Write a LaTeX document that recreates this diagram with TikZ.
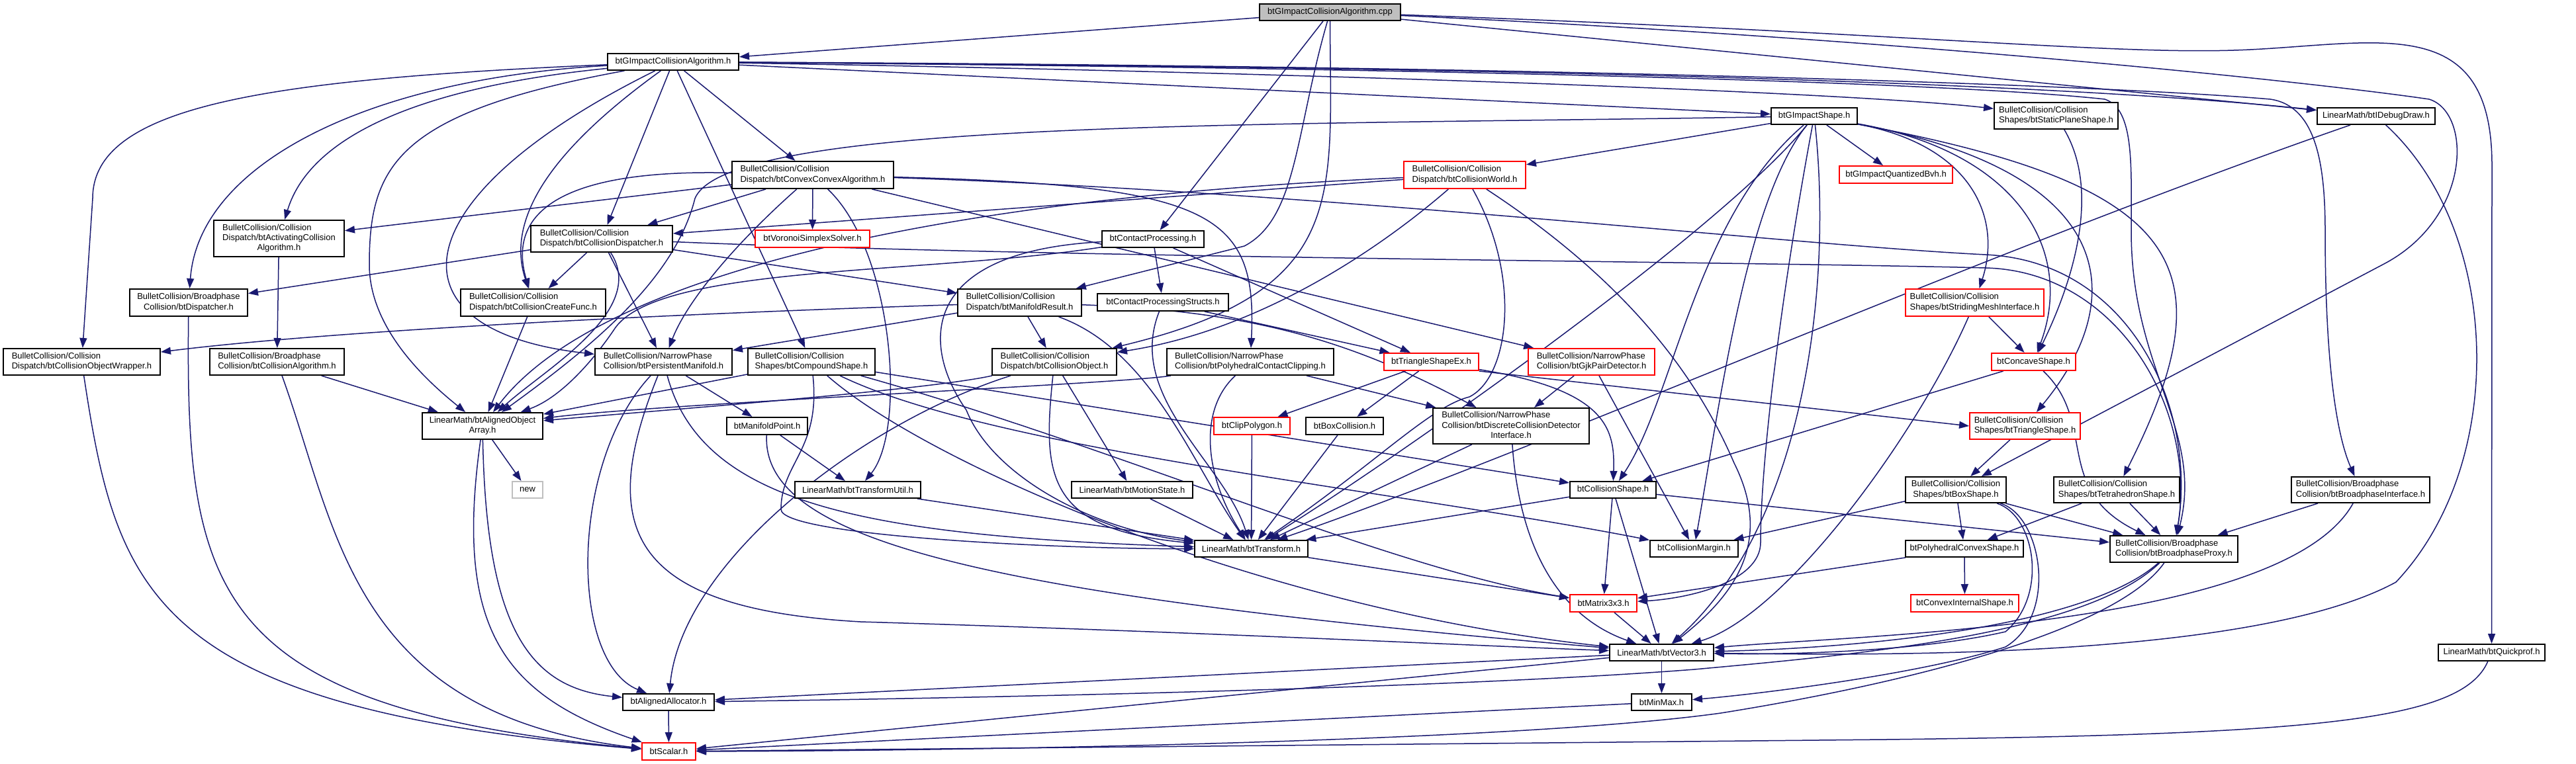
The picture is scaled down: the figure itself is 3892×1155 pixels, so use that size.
\documentclass[tikz,border=0pt]{standalone}
\usepackage{fontspec}
\setmainfont{Liberation Sans}
\usetikzlibrary{arrows.meta}
\pgfdeclarelayer{bg}
\pgfdeclarelayer{edges}
\pgfsetlayers{bg,edges,main}
\definecolor{edgec}{HTML}{191970}
\definecolor{rootc}{HTML}{BFBFBF}
\newcommand\nf{\fontsize{7.4pt}{8.6pt}\selectfont}
\newcommand\twol[2]{\begin{tabular}{@{}l@{}}#1\\\multicolumn{1}{@{}c@{}}{#2}\end{tabular}}
\newcommand\threel[3]{\begin{tabular}{@{}l@{}}#1\\#2\\\multicolumn{1}{@{}c@{}}{#3}\end{tabular}}
\begin{document}
\begin{tikzpicture}[x=0.02cm,y=-0.02cm,
  nd/.style={draw=black, fill=white, line width=0.04cm, inner sep=0pt, font=\nf},
  rnd/.style={nd, draw=red},
  ed/.style={draw=edgec, line width=0.03cm, -{Triangle[length=0.3cm,width=0.22cm]}}]
\begin{pgfonlayer}{bg}
\fill[white] (0,0) rectangle (3892,1155);
\end{pgfonlayer}
\useasboundingbox (0,0) rectangle (3892,1155);

\node[nd,fill=rootc,minimum width=4.26cm,minimum height=0.50cm] (cpp) at (2009.5,18.5) {btGImpactCollisionAlgorithm.cpp};
\node[nd,minimum width=3.96cm,minimum height=0.50cm] (gca) at (1017,93.5) {btGImpactCollisionAlgorithm.h};
\node[nd,minimum width=3.94cm,minimum height=1.10cm] (act) at (421.5,360.5) {\threel{BulletCollision/Collision}{Dispatch/btActivatingCollision}{Algorithm.h}};
\node[nd,minimum width=4.28cm,minimum height=0.80cm] (cdisp) at (909,361) {\twol{BulletCollision/Collision}{Dispatch/btCollisionDispatcher.h}};
\node[nd,minimum width=4.88cm,minimum height=0.82cm] (cca) at (1228,264.5) {\twol{BulletCollision/Collision}{Dispatch/btConvexConvexAlgorithm.h}};
\node[rnd,minimum width=3.46cm,minimum height=0.52cm] (vss) at (1227.5,361) {btVoronoiSimplexSolver.h};
\node[nd,minimum width=3.08cm,minimum height=0.50cm] (cp) at (1742,361.5) {btContactProcessing.h};
\node[rnd,minimum width=3.68cm,minimum height=0.82cm] (cw) at (2213,264.5) {\twol{BulletCollision/Collision}{Dispatch/btCollisionWorld.h}};
\node[nd,minimum width=2.60cm,minimum height=0.50cm] (gs) at (2741,175.5) {btGImpactShape.h};
\node[rnd,minimum width=3.42cm,minimum height=0.52cm] (qbvh) at (2864.5,264) {btGImpactQuantizedBvh.h};
\node[nd,minimum width=3.74cm,minimum height=0.80cm] (sps) at (3106.5,175) {\twol{BulletCollision/Collision}{Shapes/btStaticPlaneShape.h}};
\node[nd,minimum width=3.56cm,minimum height=0.50cm] (idd) at (3590,175.5) {LinearMath/btIDebugDraw.h};
\node[nd,minimum width=3.56cm,minimum height=0.82cm] (disp) at (285,457.5) {\twol{BulletCollision/Broadphase}{Collision/btDispatcher.h}};
\node[nd,minimum width=4.38cm,minimum height=0.82cm] (ccf) at (805.5,457.5) {\twol{BulletCollision/Collision}{Dispatch/btCollisionCreateFunc.h}};
\node[nd,minimum width=4.74cm,minimum height=0.80cm] (cow) at (123.5,547) {\twol{BulletCollision/Collision}{Dispatch/btCollisionObjectWrapper.h}};
\node[nd,minimum width=4.06cm,minimum height=0.80cm] (calg) at (418.5,547) {\twol{BulletCollision/Broadphase}{Collision/btCollisionAlgorithm.h}};
\node[nd,minimum width=3.64cm,minimum height=0.80cm] (aoa) at (729,644) {\twol{LinearMath/btAlignedObject}{Array.h}};
\node[nd,draw=rootc,minimum width=0.92cm,minimum height=0.50cm] (nw) at (797,740.5) {new};
\node[nd,minimum width=4.14cm,minimum height=0.80cm] (pm) at (1002.5,547) {\twol{BulletCollision/NarrowPhase}{Collision/btPersistentManifold.h}};
\node[nd,minimum width=3.84cm,minimum height=0.80cm] (cs) at (1226,547) {\twol{BulletCollision/Collision}{Shapes/btCompoundShape.h}};
\node[nd,minimum width=3.74cm,minimum height=0.82cm] (mr) at (1540.5,457.5) {\twol{BulletCollision/Collision}{Dispatch/btManifoldResult.h}};
\node[nd,minimum width=3.96cm,minimum height=0.52cm] (cps) at (1757,457) {btContactProcessingStructs.h};
\node[nd,minimum width=3.76cm,minimum height=0.80cm] (co) at (1593,547) {\twol{BulletCollision/Collision}{Dispatch/btCollisionObject.h}};
\node[nd,minimum width=5.04cm,minimum height=0.80cm] (pcc) at (1889,547) {\twol{BulletCollision/NarrowPhase}{Collision/btPolyhedralContactClipping.h}};
\node[nd,minimum width=2.44cm,minimum height=0.52cm] (mp) at (1159,644) {btManifoldPoint.h};
\node[nd,minimum width=3.80cm,minimum height=0.50cm] (tu) at (1296,740.5) {LinearMath/btTransformUtil.h};
\node[nd,minimum width=3.66cm,minimum height=0.50cm] (ms) at (1710.5,740.5) {LinearMath/btMotionState.h};
\node[rnd,minimum width=2.30cm,minimum height=0.52cm] (clip) at (1891.5,644) {btClipPolygon.h};
\node[rnd,minimum width=2.86cm,minimum height=0.52cm] (tsex) at (2162.5,547) {btTriangleShapeEx.h};
\node[rnd,minimum width=3.82cm,minimum height=0.80cm] (gjk) at (2404.5,547) {\twol{BulletCollision/NarrowPhase}{Collision/btGjkPairDetector.h}};
\node[nd,minimum width=2.34cm,minimum height=0.52cm] (bc) at (2031.5,644) {btBoxCollision.h};
\node[nd,minimum width=4.72cm,minimum height=1.08cm] (dcdi) at (2283,644) {\threel{BulletCollision/NarrowPhase}{Collision/btDiscreteCollisionDetector}{Interface.h}};
\node[nd,minimum width=2.60cm,minimum height=0.50cm] (csh) at (2437,740.5) {btCollisionShape.h};
\node[rnd,minimum width=4.18cm,minimum height=0.82cm] (smi) at (2983.5,457.5) {\twol{BulletCollision/Collision}{Shapes/btStridingMeshInterface.h}};
\node[rnd,minimum width=2.54cm,minimum height=0.52cm] (conc) at (3072.5,547) {btConcaveShape.h};
\node[rnd,minimum width=3.34cm,minimum height=0.80cm] (tri) at (3059.5,644) {\twol{BulletCollision/Collision}{Shapes/btTriangleShape.h}};
\node[nd,minimum width=3.04cm,minimum height=0.78cm] (box) at (2955,740.5) {\twol{BulletCollision/Collision}{Shapes/btBoxShape.h}};
\node[nd,minimum width=3.80cm,minimum height=0.78cm] (tet) at (3198,740.5) {\twol{BulletCollision/Collision}{Shapes/btTetrahedronShape.h}};
\node[nd,minimum width=4.18cm,minimum height=0.78cm] (bpi) at (3566.5,740.5) {\twol{BulletCollision/Broadphase}{Collision/btBroadphaseInterface.h}};
\node[nd,minimum width=3.42cm,minimum height=0.50cm] (tr) at (1890.5,829.5) {LinearMath/btTransform.h};
\node[nd,minimum width=2.66cm,minimum height=0.50cm] (cm) at (2559.5,829.5) {btCollisionMargin.h};
\node[rnd,minimum width=2.02cm,minimum height=0.52cm] (m33) at (2422.5,912) {btMatrix3x3.h};
\node[nd,minimum width=3.14cm,minimum height=0.50cm] (v3) at (2510.5,986.5) {LinearMath/btVector3.h};
\node[nd,minimum width=1.82cm,minimum height=0.50cm] (mm) at (2510.5,1061.5) {btMinMax.h};
\node[nd,minimum width=2.76cm,minimum height=0.50cm] (aa) at (1010,1061.5) {btAlignedAllocator.h};
\node[rnd,minimum width=1.62cm,minimum height=0.52cm] (sc) at (1010.5,1136) {btScalar.h};
\node[nd,minimum width=3.56cm,minimum height=0.50cm] (pcs) at (2968,829.5) {btPolyhedralConvexShape.h};
\node[rnd,minimum width=3.26cm,minimum height=0.52cm] (cis) at (2968.5,912) {btConvexInternalShape.h};
\node[nd,minimum width=3.86cm,minimum height=0.80cm] (bpp) at (3284.5,830) {\twol{BulletCollision/Broadphase}{Collision/btBroadphaseProxy.h}};
\node[nd,minimum width=3.22cm,minimum height=0.50cm] (qp) at (3764.5,986.5) {LinearMath/btQuickprof.h};

\begin{pgfonlayer}{edges}
% cpp
\draw[ed] (cpp) -- (gca);
\draw[ed] (cpp) -- (cp);
\draw[ed] (cpp) .. controls (1957,200) and (1960,330) .. (1880,372) -- (mr);
\draw[ed] (cpp) .. controls (2010,300) and (2040,440) .. (co);
\draw[ed] (cpp) .. controls (2900,60) and (3500,125) .. (3670,150) .. controls (3735,170) and (3735,330) .. (3600,400) -- (box);
\draw[ed] (cpp) -- (idd);
\draw[ed] (cpp) .. controls (2900,50) and (3200,85) .. (3400,75) .. controls (3600,65) and (3765,20) .. (3765,250) -- (qp);
% gca
\draw[ed] (gca) .. controls (650,130) and (470,200) .. (act);
\draw[ed] (gca) .. controls (550,120) and (300,250) .. (disp);
\draw[ed] (gca) .. controls (400,120) and (140,160) .. (140,300) -- (cow);
\draw[ed] (gca) .. controls (600,170) and (558,250) .. (558,400) .. controls (558,500) and (650,580) .. (aoa);
\draw[ed] (gca) .. controls (600,300) and (580,500) .. (pm);
\draw[ed] (gca) -- (cdisp);
\draw[ed] (gca) .. controls (800,250) and (770,350) .. (ccf);
\draw[ed] (gca) -- (cca);
\draw[ed] (gca) -- (cs);
\draw[ed] (gca) -- (gs);
\draw[ed] (gca) .. controls (2000,110) and (2800,140) .. (sps);
\draw[ed] (gca) .. controls (2000,100) and (3000,115) .. (idd);
\draw[ed] (gca) .. controls (2400,100) and (3200,130) .. (3430,150) .. controls (3500,160) and (3513,250) .. (3513,350) .. controls (3513,600) and (3540,680) .. (bpi);
\draw[ed] (gca) .. controls (2400,105) and (3000,130) .. (3180,150) .. controls (3225,165) and (3220,250) .. (3220,350) .. controls (3220,560) and (3330,650) .. (bpp);
% act calg disp cow
\draw[ed] (act) -- (calg);
\draw[ed] (calg) -- (aoa);
\draw[ed] (calg) .. controls (510,800) and (530,1080) .. (sc);
\draw[ed] (disp) .. controls (280,900) and (320,1070) .. (sc);
\draw[ed] (cow) .. controls (177,900) and (230,1070) .. (sc);
% cdisp
\draw[ed] (cdisp) -- (disp);
\draw[ed] (cdisp) -- (ccf);
\draw[ed] (cdisp) -- (pm);
\draw[ed] (cdisp) .. controls (980,470) and (820,560) .. (aoa);
\draw[ed] (cdisp) -- (mr);
\draw[ed] (cdisp) .. controls (1600,390) and (2600,395) .. (3000,405) .. controls (3200,410) and (3320,620) .. (bpp);
\draw[ed] (ccf) -- (aoa);
% cca
\draw[ed] (cca) -- (act);
\draw[ed] (cca) -- (cdisp);
\draw[ed] (cca) -- (vss);
\draw[ed] (cca) .. controls (850,255) and (765,320) .. (ccf);
\draw[ed] (cca) .. controls (1120,360) and (1040,450) .. (pm);
\draw[ed] (cca) .. controls (1350,380) and (1370,650) .. (tu);
\draw[ed] (cca) .. controls (1830,280) and (1900,320) .. (pcc);
\draw[ed] (cca) -- (gjk);
\draw[ed] (cca) .. controls (2000,290) and (2700,370) .. (3000,385) .. controls (3220,395) and (3320,620) .. (bpp);
% cw
\draw[ed] (cw) -- (cdisp);
\draw[ed] (cw) .. controls (1400,300) and (900,420) .. (aoa);
\draw[ed] (cw) .. controls (2080,380) and (1900,500) .. (co);
\draw[ed] (cw) .. controls (2300,420) and (2280,570) .. (2220,600) .. controls (2160,615) and (2080,700) .. (tr);
\draw[ed] (cw) .. controls (2450,420) and (2560,560) .. (2620,700) .. controls (2680,820) and (2620,900) .. (v3);
% gs
\draw[ed] (gs) -- (cw);
\draw[ed] (gs) -- (qbvh);
\draw[ed] (gs) .. controls (2980,220) and (3025,330) .. (smi);
\draw[ed] (gs) .. controls (3050,230) and (3135,380) .. (conc);
\draw[ed] (gs) .. controls (3200,260) and (3220,450) .. (tri);
\draw[ed] (gs) .. controls (3300,280) and (3370,400) .. (tet);
\draw[ed] (gs) .. controls (2560,330) and (2530,600) .. (csh);
\draw[ed] (gs) .. controls (2640,300) and (2600,600) .. (cm);
\draw[ed] (gs) .. controls (2690,450) and (2660,700) .. (2660,820) .. controls (2660,880) and (2550,905) .. (m33);
\draw[ed] (gs) .. controls (2770,450) and (2720,800) .. (v3);
\draw[ed] (gs) .. controls (2600,350) and (2100,700) .. (tr);
\draw[ed] (gs) .. controls (1900,190) and (1100,180) .. (1050,300) .. controls (1020,420) and (900,520) .. (aoa);
% pm mp
\draw[ed] (pm) -- (mp);
\draw[ed] (pm) .. controls (1060,760) and (1300,810) .. (tr);
\draw[ed] (pm) .. controls (900,800) and (950,920) .. (1300,940) .. controls (1800,955) and (2200,975) .. (v3);
\draw[ed] (pm) .. controls (860,700) and (860,1000) .. (aa);
\draw[ed] (mp) -- (tu);
\draw[ed] (mp) .. controls (1150,820) and (1500,900) .. (v3);
% math chain
\draw[ed] (tu) -- (tr);
\draw[ed] (ms) -- (tr);
\draw[ed] (tr) -- (m33);
\draw[ed] (m33) -- (v3);
\draw[ed] (v3) -- (mm);
\draw[ed] (v3) -- (aa);
\draw[ed] (v3) -- (sc);
\draw[ed] (mm) -- (sc);
\draw[ed] (aa) -- (sc);
% aoa
\draw[ed] (aoa) .. controls (735,950) and (800,1040) .. (aa);
\draw[ed] (aoa) -- (nw);
\draw[ed] (aoa) .. controls (686,950) and (760,1050) .. (sc);
% co
\draw[ed] (co) .. controls (1575,720) and (1580,800) .. (tr);
\draw[ed] (co) -- (ms);
\draw[ed] (co) .. controls (1400,590) and (1000,620) .. (aoa);
\draw[ed] (co) .. controls (1300,640) and (1030,850) .. (aa);
% mr
\draw[ed] (mr) -- (co);
\draw[ed] (mr) -- (pm);
\draw[ed] (mr) .. controls (1000,475) and (500,500) .. (cow);
\draw[ed] (mr) .. controls (1900,470) and (2050,520) .. (dcdi);
\draw[ed] (mr) .. controls (1740,530) and (1800,700) .. (tr);
% cp cps
\draw[ed] (cp) -- (cps);
\draw[ed] (cp) -- (tsex);
\draw[ed] (cp) .. controls (1390,380) and (1390,520) .. (1460,620) .. controls (1500,720) and (1650,800) .. (tr);
\draw[ed] (cp) .. controls (1400,415) and (1000,400) .. (930,495) .. controls (900,540) and (850,600) .. (aoa);
\draw[ed] (cps) .. controls (1700,600) and (1850,700) .. (tr);
\draw[ed] (cps) -- (tsex);
% tsex
\draw[ed] (tsex) -- (clip);
\draw[ed] (tsex) -- (bc);
\draw[ed] (tsex) .. controls (2430,590) and (2440,650) .. (csh);
\draw[ed] (tsex.south east) -- (tri.west);
\draw[ed] (bc) -- (tr);
\draw[ed] (clip) -- (tr);
% pcc
\draw[ed] (pcc) .. controls (1700,580) and (1000,610) .. (aoa);
\draw[ed] (pcc) .. controls (1810,620) and (1820,720) .. (tr);
\draw[ed] (pcc) -- (dcdi);
% dcdi gjk
\draw[ed] (dcdi) -- (tr);
\draw[ed] (dcdi) .. controls (2295,820) and (2350,930) .. (v3);
\draw[ed] (gjk) -- (dcdi);
\draw[ed] (gjk) -- (cm);
% cs
\draw[ed] (cs) -- (csh);
\draw[ed] (cs) .. controls (1400,700) and (1900,920) .. (v3);
\draw[ed] (cs) .. controls (1240,680) and (1180,700) .. (1180,770) .. controls (1180,810) and (1600,830) .. (tr);
\draw[ed] (cs) .. controls (1700,680) and (2100,860) .. (m33);
\draw[ed] (cs) .. controls (1500,680) and (2100,740) .. (cm);
\draw[ed] (cs) -- (aoa);
% csh
\draw[ed] (csh) -- (tr);
\draw[ed] (csh) -- (m33);
\draw[ed] (csh) -- (v3);
\draw[ed] (csh) -- (bpp);
% shapes right
\draw[ed] (smi) -- (conc);
\draw[ed] (smi) .. controls (2900,650) and (2700,930) .. (v3);
\draw[ed] (conc) -- (csh);
\draw[ed] (conc) .. controls (3170,640) and (3100,740) .. (bpp);
\draw[ed] (sps) .. controls (3180,300) and (3120,450) .. (conc);
\draw[ed] (tri) -- (box);
\draw[ed] (box) -- (pcs);
\draw[ed] (box) -- (cm);
\draw[ed] (box) -- (bpp);
\draw[ed] (box) .. controls (3075,780) and (3095,900) .. (3030,955) .. controls (2900,985) and (2700,990) .. (v3);
\draw[ed] (box) .. controls (3085,780) and (3110,930) .. (3030,978) .. controls (2900,1020) and (2650,1050) .. (mm);
\draw[ed] (tet) -- (pcs);
\draw[ed] (tet) -- (bpp);
\draw[ed] (pcs) -- (cis);
\draw[ed] (pcs) -- (m33);
\draw[ed] (bpi) -- (bpp);
\draw[ed] (bpi) .. controls (3450,950) and (2800,960) .. (v3);
\draw[ed] (bpp) .. controls (3150,950) and (2800,980) .. (v3);
\draw[ed] (bpp) .. controls (3150,960) and (2800,990) .. (2560,1012) .. controls (2200,1040) and (1500,1055) .. (aa);
\draw[ed] (bpp) .. controls (3200,950) and (2900,1030) .. (2600,1078) .. controls (2300,1120) and (1500,1135) .. (sc);
\draw[ed] (idd) .. controls (3000,380) and (2300,690) .. (tr);
\draw[ed] (idd) .. controls (3780,350) and (3790,700) .. (3620,880) .. controls (3400,1000) and (2800,990) .. (v3);
\draw[ed] (qp) .. controls (3720,1090) and (3500,1110) .. (2850,1118) -- (sc);
\end{pgfonlayer}
\end{tikzpicture}
\end{document}
